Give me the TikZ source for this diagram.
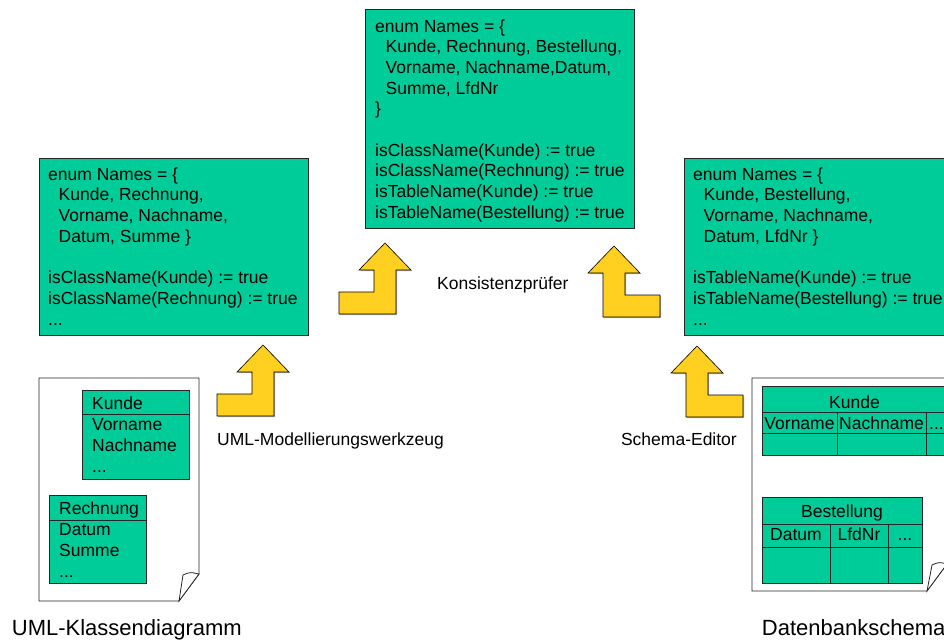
\documentclass[tikz,border=0pt]{standalone}
\usepackage{fontspec}
\setmainfont{Liberation Sans}
\definecolor{boxgreen}{RGB}{0,204,153}
\definecolor{arrowyellow}{RGB}{255,208,32}
\newcommand\codefont{\fontsize{17.5}{20.7}\selectfont}
\newcommand\classfont{\fontsize{17.5}{21}\selectfont}
\newcommand\titlefont{\fontsize{22}{26}\selectfont}
\begin{document}
\begin{tikzpicture}[x=1pt,y=-1pt,
  codebox/.style={draw=black!85, fill=boxgreen, line width=0.8pt, anchor=north west, inner sep=0pt},
  codetext/.style={anchor=north west, inner sep=0pt, align=left, font=\codefont},
  classtext/.style={anchor=north west, inner sep=0pt, align=left, font=\classfont},
  celltext/.style={anchor=base, inner sep=0pt, font=\codefont},
  toolname/.style={inner sep=0pt, font=\codefont},
  doctitle/.style={inner sep=0pt, font=\titlefont, anchor=base west},
  page/.style={draw=black!85, fill=white, line width=0.8pt, line join=miter},
  gridline/.style={draw=black!85, line width=0.8pt},
  pics/bendarrow/.style={code={
    \begin{scope}[shift={(1.2,1.2)}]
      \fill[black!30] (0,0) -- ({26*#1},27) -- ({11*#1},27) -- ({11*#1},49) -- ({46*#1},49)
        -- ({46*#1},71) -- ({-11*#1},71) -- ({-11*#1},27) -- ({-26*#1},27) -- cycle;
    \end{scope}
    \filldraw[fill=arrowyellow, draw=black, line width=0.6pt, line join=miter]
      (0,0) -- ({26*#1},27) -- ({11*#1},27) -- ({11*#1},49) -- ({46*#1},49)
      -- ({46*#1},71) -- ({-11*#1},71) -- ({-11*#1},27) -- ({-26*#1},27) -- cycle;
  }}
]
\useasboundingbox (0,0) rectangle (944,641);
\begin{scope}
\clip (0,0) rectangle (944,641);

% --- name tables -------------------------------------------------------
\node[codebox, minimum width=269pt, minimum height=219pt] (midbox) at (365,9) {};
\node[codetext] (midtext) at (375,17.4) {\strut enum Names = \{\\
\hspace*{10.5pt}Kunde, Rechnung, Bestellung,\\
\hspace*{10.5pt}Vorname, Nachname,Datum,\\
\hspace*{10.5pt}Summe, LfdNr\\
\}\\[20.7pt]
isClassName(Kunde) := true\\
isClassName(Rechnung) := true\\
isTableName(Kunde) := true\\
isTableName(Bestellung) := true};

\node[codebox, minimum width=269pt, minimum height=177pt] (leftbox) at (39,158) {};
\node[codetext] (lefttext) at (48,165.4) {\strut enum Names = \{\\
\hspace*{10.5pt}Kunde, Rechnung,\\
\hspace*{10.5pt}Vorname, Nachname,\\
\hspace*{10.5pt}Datum, Summe \}\\[20.7pt]
isClassName(Kunde) := true\\
isClassName(Rechnung) := true\\
...};

\node[codebox, minimum width=269pt, minimum height=177pt] (rightbox) at (684,158) {};
\node[codetext] (righttext) at (693,165.4) {\strut enum Names = \{\\
\hspace*{10.5pt}Kunde, Bestellung,\\
\hspace*{10.5pt}Vorname, Nachname,\\
\hspace*{10.5pt}Datum, LfdNr \}\\[20.7pt]
isTableName(Kunde) := true\\
isTableName(Bestellung) := true\\
...};

% --- tool arrows --------------------------------------------------------
\pic at (263,345) {bendarrow=-1};
\pic at (385,243) {bendarrow=-1};
\pic at (614,246) {bendarrow=1};
\pic at (697,346) {bendarrow=1};

\node[toolname, anchor=base west] (umltool) at (217,445) {UML-Modellierungswerkzeug};
\node[toolname, anchor=base west] (checker) at (437,289.5) {Konsistenzprüfer};
\node[toolname, anchor=base east] (schemaed) at (737,445) {Schema-Editor};

% --- class diagram sheet ------------------------------------------------
\draw[page] (39,378) -- (199,378) -- (199,574) -- (179,601) -- (39,601) -- cycle;
\draw[page] (179,601) -- (183,575) .. controls (190,572) .. (199,574) -- cycle;

\node[codebox, minimum width=107pt, minimum height=89pt] (kundeclass) at (82,390) {};
\draw[gridline] (82,414) -- (189,414);
\node[classtext] (kundeattrs) at (92,394.3) {\strut Kunde\\Vorname\\Nachname\\...};

\node[codebox, minimum width=97pt, minimum height=88pt] (rechnungclass) at (49,495) {};
\draw[gridline] (49,520) -- (146,520);
\node[classtext] (rechnungattrs) at (59,499.3) {\strut Rechnung\\Datum\\Summe\\...};

% --- database schema sheet ----------------------------------------------
\draw[page] (752,378) -- (947,378) -- (947,564) -- (927,591) -- (752,591) -- cycle;
\draw[page] (927,591) -- (932,565) .. controls (939,562) .. (947,564) -- cycle;

\node[codebox, minimum width=185pt, minimum height=69pt] (kundetable) at (762,386) {};
\draw[gridline] (762,412) -- (947,412);
\draw[gridline] (762,433) -- (947,433);
\draw[gridline] (837,412) -- (837,455);
\draw[gridline] (926,412) -- (926,455);
\node[celltext] (kundehead) at (854.5,408) {Kunde};
\node[celltext] (kundecol1) at (799.5,429) {Vorname};
\node[celltext] (kundecol2) at (881.5,429) {Nachname};
\node[celltext] (kundecol3) at (936.5,429) {...};

\node[codebox, minimum width=160pt, minimum height=86pt] (bestelltable) at (762,497) {};
\draw[gridline] (762,524) -- (922,524);
\draw[gridline] (762,547) -- (922,547);
\draw[gridline] (830,524) -- (830,583);
\draw[gridline] (888,524) -- (888,583);
\node[celltext] (bestellhead) at (842,517.5) {Bestellung};
\node[celltext] (bestellcol1) at (796,540) {Datum};
\node[celltext] (bestellcol2) at (859,540) {LfdNr};
\node[celltext] (bestellcol3) at (905,540) {...};

% --- sheet titles -------------------------------------------------------
\node[doctitle] (umltitle) at (11.7,635.5) {UML-Klassendiagramm};
\node[doctitle] (dbtitle) at (761.7,635.5) {Datenbankschema};
\end{scope}
\end{tikzpicture}
\end{document}
